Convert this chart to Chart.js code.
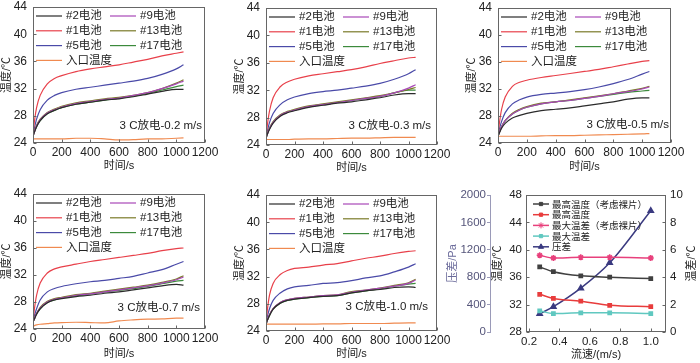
<!DOCTYPE html>
<html>
<head>
<meta charset="utf-8">
<script src="https://cdn.jsdelivr.net/npm/chart.js@4"></script>
<style>
body { margin: 0; background: #fff; width: 700px; height: 363px; position: relative; overflow: hidden; }
.box { position: absolute; }
</style>
</head>
<body>
<div class="box" style="left:0;top:0;width:235px;height:180px"><canvas id="c1"></canvas></div>
<div class="box" style="left:233px;top:0;width:237px;height:180px"><canvas id="c2"></canvas></div>
<div class="box" style="left:465px;top:0;width:235px;height:180px"><canvas id="c3"></canvas></div>
<div class="box" style="left:0;top:180px;width:235px;height:183px"><canvas id="c4"></canvas></div>
<div class="box" style="left:233px;top:180px;width:237px;height:183px"><canvas id="c5"></canvas></div>
<div class="box" style="left:440px;top:180px;width:260px;height:183px"><canvas id="c6"></canvas></div>
<script>
// ---- data ----
const time = [0, 10, 25, 50, 100, 150, 200, 300, 400, 500, 600, 700, 800, 900, 1000, 1050];
const timeTicks = [0, 200, 400, 600, 800, 1000, 1200];
const tempTicks = [24, 28, 32, 36, 40, 44];
const cellNames = ['#2电池', '#9电池', '#1电池', '#13电池', '#5电池', '#17电池', '入口温度'];

// 0.2 m/s
const v02_c2 = [25.0, 25.6, 26.4, 27.3, 28.3, 28.8, 29.2, 29.7, 30.0, 30.3, 30.5, 30.8, 31.2, 31.6, 31.9, 31.9];
const v02_c9 = [25.0, 25.6, 26.5, 27.4, 28.4, 28.9, 29.3, 29.8, 30.1, 30.4, 30.6, 31.0, 31.4, 32.0, 32.7, 33.1];
const v02_c1 = [25.3, 27.2, 29.2, 31.0, 32.7, 33.5, 33.9, 34.5, 34.9, 35.2, 35.5, 35.9, 36.3, 36.8, 37.2, 37.4];
const v02_c13 = [25.0, 25.7, 26.6, 27.5, 28.5, 29.0, 29.4, 29.9, 30.2, 30.5, 30.7, 31.0, 31.4, 32.0, 32.8, 33.3];
const v02_c5 = [25.2, 26.2, 27.5, 28.9, 30.3, 31.0, 31.4, 31.9, 32.2, 32.5, 32.8, 33.1, 33.5, 34.1, 34.9, 35.5];
const v02_c17 = [25.0, 25.6, 26.4, 27.3, 28.3, 28.8, 29.2, 29.7, 30.0, 30.3, 30.6, 30.9, 31.3, 31.8, 32.3, 32.5];
const v02_in = [24.6, 24.6, 24.6, 24.6, 24.6, 24.6, 24.6, 24.7, 24.7, 24.6, 24.45, 24.5, 24.6, 24.6, 24.7, 24.75];

// 0.3 m/s
const v03_c2 = [25.0, 25.6, 26.3, 27.2, 28.2, 28.7, 29.0, 29.5, 29.8, 30.1, 30.3, 30.6, 30.9, 31.3, 31.5, 31.5];
const v03_c9 = [25.0, 25.6, 26.4, 27.3, 28.3, 28.8, 29.1, 29.6, 29.9, 30.2, 30.5, 30.8, 31.1, 31.6, 32.3, 32.8];
const v03_c1 = [25.3, 27.0, 29.0, 30.9, 32.5, 33.2, 33.6, 34.1, 34.4, 34.7, 35.0, 35.4, 35.9, 36.3, 36.7, 36.8];
const v03_c13 = [25.0, 25.7, 26.5, 27.4, 28.4, 28.9, 29.2, 29.7, 30.0, 30.3, 30.6, 30.9, 31.2, 31.6, 32.1, 32.4];
const v03_c5 = [25.2, 26.1, 27.3, 28.6, 29.9, 30.6, 31.0, 31.5, 31.8, 32.0, 32.3, 32.6, 33.0, 33.6, 34.4, 35.0];
const v03_c17 = [25.0, 25.6, 26.4, 27.3, 28.3, 28.8, 29.1, 29.6, 29.9, 30.2, 30.5, 30.8, 31.1, 31.6, 32.0, 32.0];
const v03_in = [24.8, 24.8, 24.8, 24.8, 24.8, 24.8, 24.85, 24.9, 24.9, 24.95, 25.0, 25.0, 25.05, 25.1, 25.1, 25.1];

// 0.5 m/s
const v05_c2 = [25.0, 25.5, 26.2, 26.9, 27.7, 28.1, 28.4, 28.8, 29.0, 29.2, 29.5, 29.8, 30.1, 30.5, 30.7, 30.7];
const v05_c9 = [25.0, 25.6, 26.4, 27.3, 28.3, 28.9, 29.3, 29.8, 30.1, 30.3, 30.6, 30.9, 31.3, 31.6, 32.0, 32.3];
const v05_c1 = [25.3, 27.0, 29.0, 30.8, 32.4, 33.0, 33.3, 33.7, 34.0, 34.3, 34.6, 34.9, 35.3, 35.7, 36.1, 36.2];
const v05_c13 = [25.0, 25.6, 26.4, 27.3, 28.4, 29.0, 29.4, 29.9, 30.1, 30.4, 30.7, 31.0, 31.3, 31.7, 32.1, 32.4];
const v05_c5 = [25.2, 26.1, 27.2, 28.5, 29.8, 30.4, 30.8, 31.2, 31.4, 31.6, 31.9, 32.3, 32.8, 33.4, 34.2, 34.6];
const v05_c17 = [25.0, 25.6, 26.4, 27.3, 28.3, 28.9, 29.3, 29.8, 30.1, 30.3, 30.6, 30.9, 31.2, 31.5, 31.7, 31.8];
const v05_in = [25.0, 25.0, 25.0, 25.0, 25.0, 25.0, 25.0, 25.05, 25.1, 25.1, 25.15, 25.2, 25.25, 25.3, 25.35, 25.4];

// 0.7 m/s
const v07_c2 = [25.0, 25.5, 26.2, 27.0, 27.9, 28.3, 28.5, 28.8, 29.0, 29.3, 29.5, 29.8, 30.1, 30.4, 30.6, 30.5];
const v07_c9 = [25.0, 25.5, 26.3, 27.1, 28.0, 28.4, 28.6, 29.0, 29.2, 29.5, 29.8, 30.1, 30.4, 30.8, 31.3, 31.7];
const v07_c1 = [25.3, 27.0, 29.0, 30.8, 32.3, 32.9, 33.2, 33.6, 34.0, 34.3, 34.6, 34.9, 35.2, 35.6, 35.9, 36.0];
const v07_c13 = [25.0, 25.6, 26.3, 27.2, 28.1, 28.5, 28.7, 29.1, 29.3, 29.6, 29.9, 30.2, 30.5, 30.9, 31.4, 31.9];
const v07_c5 = [25.2, 26.0, 27.0, 28.3, 29.5, 30.0, 30.3, 30.7, 31.0, 31.2, 31.5, 31.8, 32.3, 32.8, 33.6, 34.0];
const v07_c17 = [25.0, 25.5, 26.2, 27.0, 27.9, 28.3, 28.6, 28.9, 29.2, 29.5, 29.7, 30.0, 30.3, 30.7, 31.1, 31.2];
const v07_in = [24.4, 24.5, 24.6, 24.7, 24.8, 24.9, 24.95, 25.0, 24.95, 24.9, 25.2, 25.35, 25.45, 25.5, 25.6, 25.6];

// 1.0 m/s
const v10_c2 = [25.0, 25.6, 26.3, 27.2, 28.1, 28.5, 28.7, 28.9, 29.1, 29.2, 29.6, 29.9, 30.1, 30.4, 30.5, 30.4];
const v10_c9 = [25.0, 25.6, 26.4, 27.3, 28.2, 28.6, 28.8, 29.0, 29.2, 29.3, 29.7, 30.0, 30.3, 30.6, 31.0, 31.5];
const v10_c1 = [25.3, 27.2, 29.3, 31.0, 32.3, 32.9, 33.2, 33.4, 33.7, 33.9, 34.3, 34.7, 35.0, 35.4, 35.7, 35.8];
const v10_c13 = [25.0, 25.6, 26.4, 27.3, 28.2, 28.6, 28.8, 29.0, 29.2, 29.3, 29.8, 30.0, 30.3, 30.7, 31.1, 31.6];
const v10_c5 = [25.2, 26.2, 27.3, 28.5, 29.6, 30.2, 30.5, 30.7, 31.0, 31.1, 31.4, 31.8, 32.1, 32.7, 33.4, 33.9];
const v10_c17 = [25.0, 25.6, 26.3, 27.2, 28.1, 28.5, 28.7, 28.9, 29.1, 29.2, 29.6, 29.9, 30.2, 30.6, 30.9, 31.0];
const v10_in = [25.0, 25.0, 25.0, 25.0, 25.0, 25.0, 25.0, 25.0, 25.05, 25.05, 25.1, 25.1, 25.1, 25.15, 25.2, 25.2];

// summary panel
const speed = [0.27, 0.36, 0.54, 0.73, 1.0];
const speedTicks = [0.2, 0.4, 0.6, 0.8, 1.0];
const summaryTicks = [28, 32, 36, 40, 44, 48];
const diffTicks = [0, 2, 4, 6, 8, 10];
const pressTicks = [0, 400, 800, 1200, 1600, 2000];
const maxTempBare = [37.5, 36.8, 36.2, 36.0, 35.8];
const maxTemp = [33.5, 32.9, 32.5, 31.9, 31.7];
const maxDiffBare = [5.6, 5.4, 5.45, 5.45, 5.4];
const maxDiff = [1.55, 1.35, 1.4, 1.4, 1.35];
const pressDrop = [265, 370, 640, 1010, 1770];

// ---- styles ----
const cellColors = ['#2b2b2b', '#a848b8', '#e8404a', '#7a7a28', '#4a4aa8', '#3c8a3c', '#f08a50'];
const axisColor = '#666';
const textColor = '#222';

Chart.defaults.font.family = "'Liberation Sans', 'Noto Sans CJK SC', sans-serif";
Chart.defaults.color = textColor;

const toTicks = list => s => { s.ticks = list.map(v => ({ value: v })); };
const plain = v => String(v);
const fixWidth = w => s => { s.width = w; s.paddingTop = 0; s.paddingBottom = 0; };
const fixHeight = h => s => { s.height = h; s.paddingLeft = 0; s.paddingRight = 0; };

// vertical text helper (reads bottom to top)
function sideText(ctx, text, x, y, font, color) {
    ctx.save();
    ctx.font = font;
    ctx.fillStyle = color;
    ctx.textAlign = 'center';
    ctx.textBaseline = 'middle';
    ctx.translate(x, y);
    ctx.rotate(-Math.PI / 2);
    ctx.fillText(text, 0, 0);
    ctx.restore();
}

// frame, inward ticks, custom legend and note text
const decor = {
    id: 'decor',
    afterDatasetsDraw(chart, args, o) {
        const ctx = chart.ctx, a = chart.chartArea;
        ctx.save();
        ctx.strokeStyle = axisColor;
        ctx.lineWidth = 1;
        const L = Math.round(a.left) + 0.5, T = Math.round(a.top) + 0.5;
        const R = Math.round(a.right) - 0.5, B = Math.round(a.bottom) - 0.5;
        ctx.strokeRect(L, T, R - L, B - T);

        // inward tick marks
        ctx.beginPath();
        (o.inTicks || []).forEach(id => {
            const s = chart.scales[id];
            s.ticks.forEach(t => {
                const p = Math.round(s.getPixelForValue(t.value)) + 0.5;
                if (s.isHorizontal()) { ctx.moveTo(p, B); ctx.lineTo(p, B - 3); }
                else if (s.position === 'left') { ctx.moveTo(L, p); ctx.lineTo(L + 3, p); }
                else { ctx.moveTo(R, p); ctx.lineTo(R - 3, p); }
            });
        });
        ctx.stroke();

        // legend
        ctx.font = o.font;
        ctx.textBaseline = 'middle';
        chart.data.datasets.forEach((ds, i) => {
            const col = i % o.cols, row = Math.floor(i / o.cols);
            const x0 = a.left + o.xs[col], y = a.top + o.y0 + o.dy * row;
            ctx.strokeStyle = ds.borderColor;
            ctx.lineWidth = ds.borderWidth;
            ctx.beginPath();
            ctx.moveTo(x0, y);
            ctx.lineTo(x0 + o.len, y);
            ctx.stroke();
            if (ds.pointRadius && Chart.helpers && Chart.helpers.drawPoint) {
                ctx.fillStyle = ds.backgroundColor;
                ctx.lineWidth = 1;
                Chart.helpers.drawPoint(ctx, { pointStyle: ds.pointStyle, radius: ds.pointRadius, rotation: 0, borderWidth: 1 }, x0 + o.len / 2, y);
            }
            ctx.fillStyle = textColor;
            ctx.textAlign = 'left';
            ctx.fillText(ds.label, x0 + o.len + o.gap, y);
        });

        if (o.note) {
            ctx.font = '11.5px "Liberation Sans", "Noto Sans CJK SC"';
            ctx.textAlign = 'right';
            ctx.fillStyle = textColor;
            ctx.fillText(o.note, a.right + o.nx, a.bottom + o.ny);
        }
        ctx.restore();

        (o.sideTitles || []).forEach(t => {
            sideText(ctx, t.text, t.x, (a.top + a.bottom) / 2, '11px "Liberation Sans", "Noto Sans CJK SC"', t.color);
        });
    }
};

function cellChart(id, series, note, box) {
    const datasets = cellNames.map((name, i) => ({
        label: name,
        data: time.map((t, j) => ({ x: t, y: series[i][j] })),
        borderColor: cellColors[i],
        backgroundColor: cellColors[i],
        borderWidth: 1.2,
        pointRadius: 0,
        cubicInterpolationMode: 'monotone',
        fill: false
    }));

    return new Chart(document.getElementById(id), {
        type: 'line',
        data: { datasets: datasets },
        plugins: [decor],
        options: {
            responsive: true,
            maintainAspectRatio: false,
            devicePixelRatio: 1,
            animation: false,
            layout: { padding: { left: 0, top: box.top, right: box.right, bottom: 0 } },
            plugins: {
                legend: { display: false },
                tooltip: { enabled: false },
                decor: {
                    font: '11.5px "Liberation Sans", "Noto Sans CJK SC"',
                    cols: 2, xs: [3, 77], y0: 9, dy: 14.8, len: 26, gap: 4,
                    note: note, nx: box.nx, ny: box.ny,
                    inTicks: ['x', 'y']
                }
            },
            scales: {
                x: {
                    type: 'linear', min: 0, max: 1200,
                    afterBuildTicks: toTicks(timeTicks),
                    ticks: { autoSkip: false, maxRotation: 0, padding: 2, font: { size: 12 }, callback: plain },
                    grid: { drawOnChartArea: false, drawTicks: false },
                    border: { display: false },
                    title: { display: true, text: '时间/s', font: { size: 11 }, padding: { top: 0, bottom: box.xtp } },
                    afterFit: fixHeight(box.xh)
                },
                y: {
                    min: 24, max: 44,
                    afterBuildTicks: toTicks(tempTicks),
                    ticks: { padding: 6, font: { size: 12 }, callback: plain },
                    grid: { drawOnChartArea: false, drawTicks: false },
                    border: { display: false },
                    title: { display: true, text: '温度/℃', font: { size: 11 }, padding: { top: 0, bottom: 0 } },
                    afterFit: fixWidth(33)
                }
            }
        }
    });
}

cellChart('c1', [v02_c2, v02_c9, v02_c1, v02_c13, v02_c5, v02_c17, v02_in], '3 C放电-0.2 m/s',
    { top: 7, right: 30, xh: 37, xtp: 7.4, nx: -3, ny: -17 });
cellChart('c2', [v03_c2, v03_c9, v03_c1, v03_c13, v03_c5, v03_c17, v03_in], '3 C放电-0.3 m/s',
    { top: 8, right: 33, xh: 35, xtp: 5.4, nx: -6, ny: -19 });
cellChart('c3', [v05_c2, v05_c9, v05_c1, v05_c13, v05_c5, v05_c17, v05_in], '3 C放电-0.5 m/s',
    { top: 8, right: 29, xh: 37, xtp: 6.4, nx: -2, ny: -18 });
cellChart('c4', [v07_c2, v07_c9, v07_c1, v07_c13, v07_c5, v07_c17, v07_in], '3 C放电-0.7 m/s',
    { top: 14, right: 30, xh: 34, xtp: 2.4, nx: -5, ny: -21 });
cellChart('c5', [v10_c2, v10_c9, v10_c1, v10_c13, v10_c5, v10_c17, v10_in], '3 C放电-1.0 m/s',
    { top: 15, right: 33, xh: 32, xtp: 2.4, nx: -9, ny: -24 });

// ---- summary chart ----
const pressColor = '#55557a';
function series(label, values, color, style, radius, axis) {
    return {
        label: label,
        data: speed.map((v, i) => ({ x: v, y: values[i] })),
        borderColor: color,
        backgroundColor: color,
        borderWidth: 1.5,
        pointStyle: style,
        pointRadius: radius,
        cubicInterpolationMode: 'monotone',
        yAxisID: axis,
        fill: false
    };
}

new Chart(document.getElementById('c6'), {
    type: 'line',
    data: {
        datasets: [
            series('最高温度（考虑裸片）', maxTempBare, '#404040', 'rect', 2.3, 'y'),
            series('最高温度', maxTemp, '#e83c3c', 'rect', 2.3, 'y'),
            series('最大温差（考虑裸片）', maxDiffBare, '#e8407c', 'star', 3, 'y2'),
            series('最大温差', maxDiff, '#60c8c0', 'rect', 2.3, 'y2'),
            series('压差', pressDrop, '#3a3a80', 'triangle', 3, 'yP')
        ]
    },
    plugins: [decor],
    options: {
        responsive: true,
        maintainAspectRatio: false,
        devicePixelRatio: 1,
        animation: false,
        layout: { padding: { left: 0, top: 15, right: 0, bottom: 0 } },
        plugins: {
            legend: { display: false },
            tooltip: { enabled: false },
            decor: {
                font: '9.5px "Noto Sans CJK SC"',
                cols: 1, xs: [7], y0: 9, dy: 10.7, len: 16, gap: 3,
                inTicks: ['x', 'y', 'y2'],
                sideTitles: [
                    { text: '压差/Pa', x: 13, color: '#6a6a9a' },
                    { text: '温差/℃', x: 252, color: textColor }
                ]
            }
        },
        scales: {
            x: {
                type: 'linear', min: 0.18, max: 1.1,
                afterBuildTicks: toTicks(speedTicks),
                ticks: { autoSkip: false, maxRotation: 0, padding: 3, font: { size: 11.5 }, callback: v => v.toFixed(1) },
                grid: { drawOnChartArea: false, drawTicks: false },
                border: { display: false },
                title: { display: true, text: '流速/(m/s)', font: { size: 11 }, padding: { top: 0, bottom: 1.4 } },
                afterFit: fixHeight(31)
            },
            yP: {
                position: 'left', weight: 1, min: 0, max: 2000,
                afterBuildTicks: toTicks(pressTicks),
                ticks: { padding: 1, color: pressColor, font: { size: 11.5 }, callback: plain },
                grid: { drawOnChartArea: false, tickLength: 3, color: '#9a9ab8' },
                border: { display: true, color: '#9a9ab8' },
                title: { display: false },
                afterFit: fixWidth(50)
            },
            y: {
                position: 'left', weight: 0, min: 28, max: 48,
                afterBuildTicks: toTicks(summaryTicks),
                ticks: { padding: 4, font: { size: 11.5 }, callback: plain },
                grid: { drawOnChartArea: false, drawTicks: false },
                border: { display: false },
                title: { display: true, text: '温度/℃', font: { size: 11 }, padding: { top: 1, bottom: 0 } },
                afterFit: fixWidth(36)
            },
            y2: {
                position: 'right', min: 0, max: 10,
                afterBuildTicks: toTicks(diffTicks),
                ticks: { padding: 4, font: { size: 11.5 }, callback: plain },
                grid: { drawOnChartArea: false, drawTicks: false },
                border: { display: false },
                title: { display: false },
                afterFit: fixWidth(34)
            }
        }
    }
});
</script>
</body>
</html>
